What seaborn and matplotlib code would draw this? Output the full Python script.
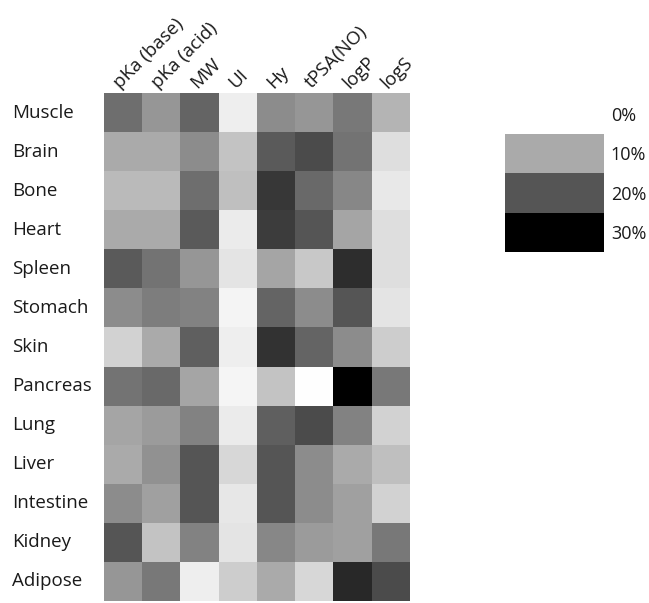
import numpy as np
import pandas as pd
import matplotlib
matplotlib.use("Agg")
import matplotlib.pyplot as plt
import seaborn as sns
from matplotlib.colors import LinearSegmentedColormap

tissues = ["Muscle", "Brain", "Bone", "Heart", "Spleen", "Stomach", "Skin",
           "Pancreas", "Lung", "Liver", "Intestine", "Kidney", "Adipose"]
descriptors = ["pKa (base)", "pKa (acid)", "MW", "UI", "Hy", "tPSA(NO)", "logP", "logS"]

muscle    = [17.1, 12.4, 18.2, 2.0, 13.5, 12.4, 15.9, 8.8]
brain     = [10.0, 10.0, 13.5, 7.1, 19.4, 21.2, 16.5, 3.9]
bone      = [8.2, 8.2, 17.1, 7.6, 23.5, 17.6, 14.1, 2.7]
heart     = [10.0, 10.0, 19.4, 2.4, 22.9, 20.0, 10.6, 3.9]
spleen    = [19.4, 16.5, 12.4, 3.2, 10.6, 6.5, 24.7, 3.9]
stomach   = [13.5, 15.3, 14.7, 1.4, 18.2, 13.5, 20.0, 3.2]
skin      = [5.3, 10.0, 18.8, 2.1, 24.1, 18.2, 13.5, 5.9]
pancreas  = [16.5, 17.6, 10.6, 1.2, 7.1, 0.2, 30.0, 15.9]
lung      = [10.6, 11.8, 14.7, 2.4, 18.8, 21.2, 14.7, 5.3]
liver     = [10.0, 12.9, 20.0, 4.7, 20.0, 13.5, 10.0, 7.6]
intestine = [13.5, 11.2, 20.0, 2.9, 20.0, 13.5, 11.2, 5.3]
kidney    = [20.0, 7.1, 14.7, 3.2, 14.1, 11.8, 11.2, 15.9]
adipose   = [12.4, 15.9, 2.1, 5.9, 10.0, 4.7, 25.3, 21.2]

legend_values = [0, 10, 20, 30]
legend_labels = ["0%", "10%", "20%", "30%"]

rows = [muscle, brain, bone, heart, spleen, stomach, skin,
        pancreas, lung, liver, intestine, kidney, adipose]
df = pd.DataFrame(rows, index=tissues, columns=descriptors)

sns.set_style("white")
plt.rcParams["font.family"] = ["Open Sans", "DejaVu Sans"]

cmap = LinearSegmentedColormap.from_list("wk", ["#ffffff", "#000000"])
txt = "#1a1a1a"

fig = plt.figure(figsize=(6.49, 6.03), dpi=100)
ax = fig.add_axes([0.160, 0.0033, 0.4715, 0.8425])
sns.heatmap(df, ax=ax, cmap=cmap, vmin=0, vmax=30, cbar=False)
ax.xaxis.tick_top()
ax.set_xticklabels(descriptors, rotation=45, ha="left", va="bottom",
                   rotation_mode="anchor", fontsize=13.5, color=txt)
ax.set_yticklabels(tissues, rotation=0, ha="left", fontsize=13.5, color=txt)
ax.tick_params(axis="y", length=0, pad=66)
ax.tick_params(axis="x", length=0, pad=1)
ax.set_xlabel("")
ax.set_ylabel("")

lax = fig.add_axes([0.778, 0.582, 0.1525, 0.262])
ldf = pd.DataFrame({"v": legend_values}, index=legend_labels)
sns.heatmap(ldf, ax=lax, cmap=cmap, vmin=0, vmax=30, cbar=False)
lax.yaxis.tick_right()
lax.set_yticklabels(legend_labels, rotation=0, ha="left", fontsize=13, color=txt)
lax.set_xticks([])
lax.tick_params(axis="y", length=0, pad=5)
lax.set_xlabel("")
lax.set_ylabel("")

fig.savefig("out.png", dpi=100)
